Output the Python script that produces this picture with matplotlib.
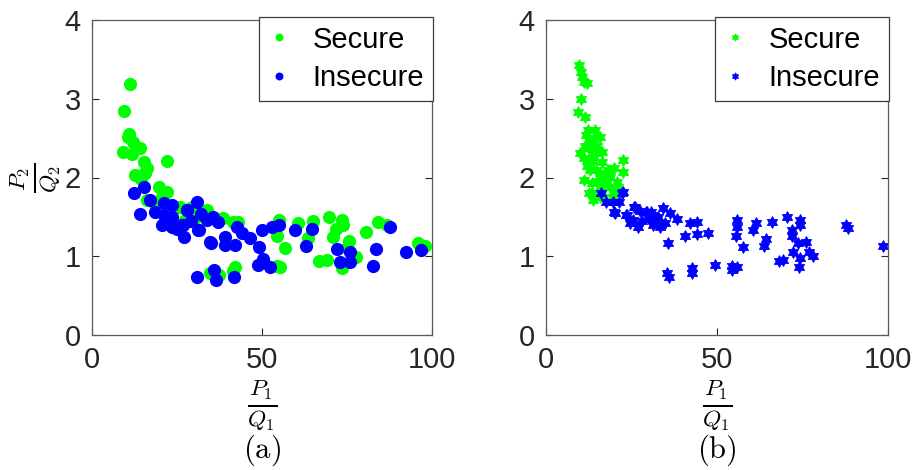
import numpy as np
import matplotlib
matplotlib.use("Agg")
import matplotlib.pyplot as plt
from matplotlib.path import Path

plt.rcParams["font.family"] = ["Liberation Sans", "DejaVu Sans"]
plt.rcParams["mathtext.fontset"] = "cm"

# (a) measured data
sec_a_x = [11.2, 9.4, 10.9, 10.6, 12.0, 9.1, 11.8, 14.1, 22.0, 15.3, 16.2, 12.6, 15.6, 14.5,
           19.7, 22.0, 16.2, 18.2, 24.4, 29.4, 33.8, 25.9, 20.5, 38.5, 43.0, 41.5, 55.0, 54.4,
           56.8, 60.6, 65.0, 63.5, 69.7, 73.5, 73.8, 71.8, 70.9, 75.6, 77.6, 73.5, 66.8, 69.0,
           80.6, 84.0, 86.8, 95.9, 97.9, 54.4, 55.3, 34.7, 37.4, 42.0, 41.5, 27.0, 31.0, 75.0]
sec_a_y = [3.19, 2.84, 2.55, 2.51, 2.45, 2.32, 2.30, 2.37, 2.21, 2.20, 2.12, 2.03, 2.06, 1.98,
           1.88, 1.82, 1.71, 1.68, 1.61, 1.63, 1.59, 1.63, 1.75, 1.49, 1.44, 1.43, 1.46, 1.26,
           1.10, 1.42, 1.45, 1.23, 1.50, 1.46, 1.40, 1.35, 1.25, 1.19, 0.99, 0.85, 0.94, 0.95,
           1.31, 1.43, 1.40, 1.17, 1.13, 0.88, 0.86, 0.79, 0.76, 0.86, 0.81, 1.45, 1.50, 1.10]
ins_a_x = [12.4, 15.3, 17.0, 14.1, 18.5, 21.2, 23.5, 21.2, 23.5, 20.6, 23.5, 26.5, 28.0, 30.9,
           27.0, 31.5, 33.8, 34.7, 27.9, 32.0, 35.6, 37.0, 26.8, 31.2, 35.0, 39.0, 42.0, 39.0,
           42.6, 46.5, 50.0, 49.0, 53.0, 55.0, 59.7, 64.7, 63.0, 50.3, 48.8, 52.4, 72.0, 73.0,
           75.9, 75.9, 83.5, 82.6, 87.6, 92.4, 96.8, 30.9, 35.9, 36.5, 41.8, 29.0, 25.0, 44.0]
ins_a_y = [1.80, 1.88, 1.71, 1.54, 1.56, 1.68, 1.65, 1.52, 1.50, 1.40, 1.37, 1.40, 1.59, 1.69,
           1.25, 1.33, 1.46, 1.18, 1.59, 1.54, 1.50, 1.44, 1.40, 1.33, 1.17, 1.14, 1.14, 1.25,
           1.37, 1.23, 1.33, 1.12, 1.37, 1.40, 1.33, 1.35, 1.13, 0.96, 0.89, 0.86, 1.09, 0.93,
           1.05, 0.93, 1.09, 0.88, 1.37, 1.05, 1.08, 0.74, 0.82, 0.70, 0.74, 1.45, 1.35, 1.30]

# (b) classified data
sec_b_x = [9.6, 10.2, 10.5, 11.1, 12.0, 10.2, 9.4, 11.4, 11.7, 14.3, 15.8, 13.0, 10.0, 12.6,
           16.4, 11.1, 13.7, 14.6, 12.9, 15.8, 18.7, 19.9, 22.5, 22.5, 13.4, 15.8, 18.7, 20.8,
           13.4, 15.8, 19.6, 11.1, 12.6, 13.7, 17.0, 21.0, 17.5, 14.5, 16.5, 12.0, 11.5, 14.0,
           15.0, 17.0, 20.0, 14.8, 16.0, 12.3, 13.5, 18.0]
sec_b_y = [3.43, 3.34, 3.28, 3.21, 3.20, 3.00, 2.83, 2.77, 2.54, 2.60, 2.51, 2.45, 2.31, 2.37,
           2.33, 2.25, 2.21, 2.31, 2.10, 2.06, 2.01, 2.12, 2.22, 2.07, 1.93, 1.88, 1.88, 1.94,
           1.80, 1.75, 1.75, 1.97, 1.80, 1.71, 1.75, 1.88, 2.00, 2.10, 2.20, 2.15, 2.40, 2.50,
           2.40, 1.95, 1.82, 1.95, 1.85, 2.60, 2.30, 2.10]
ins_b_x = [16.1, 17.5, 22.5, 21.3, 19.9, 25.7, 23.4, 29.2, 30.7, 22.2, 19.6, 20.2, 26.0, 23.7,
           24.6, 26.9, 25.4, 29.5, 31.0, 32.7, 34.2, 36.3, 38.3, 31.3, 33.3, 34.8, 42.1, 44.2,
           40.6, 44.2, 47.4, 35.7, 55.8, 55.8, 55.6, 57.6, 61.4, 60.5, 66.0, 64.3, 63.7, 70.5,
           74.3, 74.3, 71.9, 71.9, 73.7, 76.0, 72.2, 74.3, 76.9, 78.1, 68.1, 69.3, 74.0, 87.7,
           88.3, 98.5, 35.4, 36.0, 42.7, 42.7, 49.4, 54.4, 55.8, 54.5, 28.0, 30.0, 27.5, 32.0]
ins_b_y = [1.80, 1.69, 1.82, 1.69, 1.56, 1.63, 1.52, 1.56, 1.56, 1.80, 1.69, 1.55, 1.63, 1.52,
           1.42, 1.37, 1.46, 1.56, 1.52, 1.50, 1.61, 1.55, 1.47, 1.40, 1.37, 1.42, 1.42, 1.43,
           1.26, 1.28, 1.30, 1.17, 1.46, 1.37, 1.26, 1.12, 1.42, 1.33, 1.43, 1.22, 1.13, 1.50,
           1.46, 1.40, 1.33, 1.26, 1.17, 1.18, 1.05, 0.98, 1.05, 1.00, 0.94, 0.95, 0.86, 1.40,
           1.36, 1.13, 0.79, 0.74, 0.85, 0.79, 0.89, 0.88, 0.86, 0.83, 1.45, 1.47, 1.58, 1.45]

GREEN = (0, 1, 0)
BLUE = (0, 0, 1)
AXC = "#262626"
FS = 21

hexagram = Path.unit_regular_star(6, 0.577)

fig = plt.figure(figsize=(9.14, 4.70), dpi=100)
ax1 = fig.add_axes([92 / 914, 135 / 470, 340 / 914, 315 / 470])
ax2 = fig.add_axes([546 / 914, 135 / 470, 342 / 914, 315 / 470])

ax1.plot(sec_a_x, sec_a_y, "o", color=GREEN, ms=9.5, mew=0, label="Secure")
ax1.plot(ins_a_x, ins_a_y, "o", color=BLUE, ms=9.5, mew=0, label="Insecure")
ax2.plot(sec_b_x, sec_b_y, ls="none", marker=hexagram, color=GREEN, ms=8.5, mew=0.6,
         mec=GREEN, label="Secure")
ax2.plot(ins_b_x, ins_b_y, ls="none", marker=hexagram, color=BLUE, ms=8.5, mew=0.6,
         mec=BLUE, label="Insecure")

for ax in (ax1, ax2):
    ax.set_xlim(0, 100)
    ax.set_ylim(0, 4)
    ax.set_xticks([0, 50, 100])
    ax.set_yticks([0, 1, 2, 3, 4])
    ax.tick_params(direction="in", length=5, width=0.8, labelsize=FS, colors=AXC,
                   top=True, right=True, pad=8)
    for s in ax.spines.values():
        s.set_color("#5a5a5a")
        s.set_linewidth(0.9)
    leg = ax.legend(loc="upper right", bbox_to_anchor=(1.003, 1.01), borderaxespad=0,
                    fontsize=FS, fancybox=False, framealpha=1, edgecolor="#3a3a3a",
                    markerscale=0.6, handlelength=0.8, handletextpad=0.75,
                    borderpad=0.3, labelspacing=0.36)
    leg.get_frame().set_linewidth(0.9)

ax1.set_ylabel(r"$\frac{P_2}{Q_2}$", fontsize=24, labelpad=2)

for cx, tag in ((262, "(a)"), (717, "(b)")):
    fig.text(cx / 914, 1 - 405 / 470, r"$\frac{P_1}{Q_1}$", fontsize=24,
             ha="center", va="center")
    fig.text(cx / 914, 1 - 450 / 470, r"$\mathrm{%s}$" % tag, fontsize=22,
             ha="center", va="center")

fig.savefig("out.png", dpi=100)
